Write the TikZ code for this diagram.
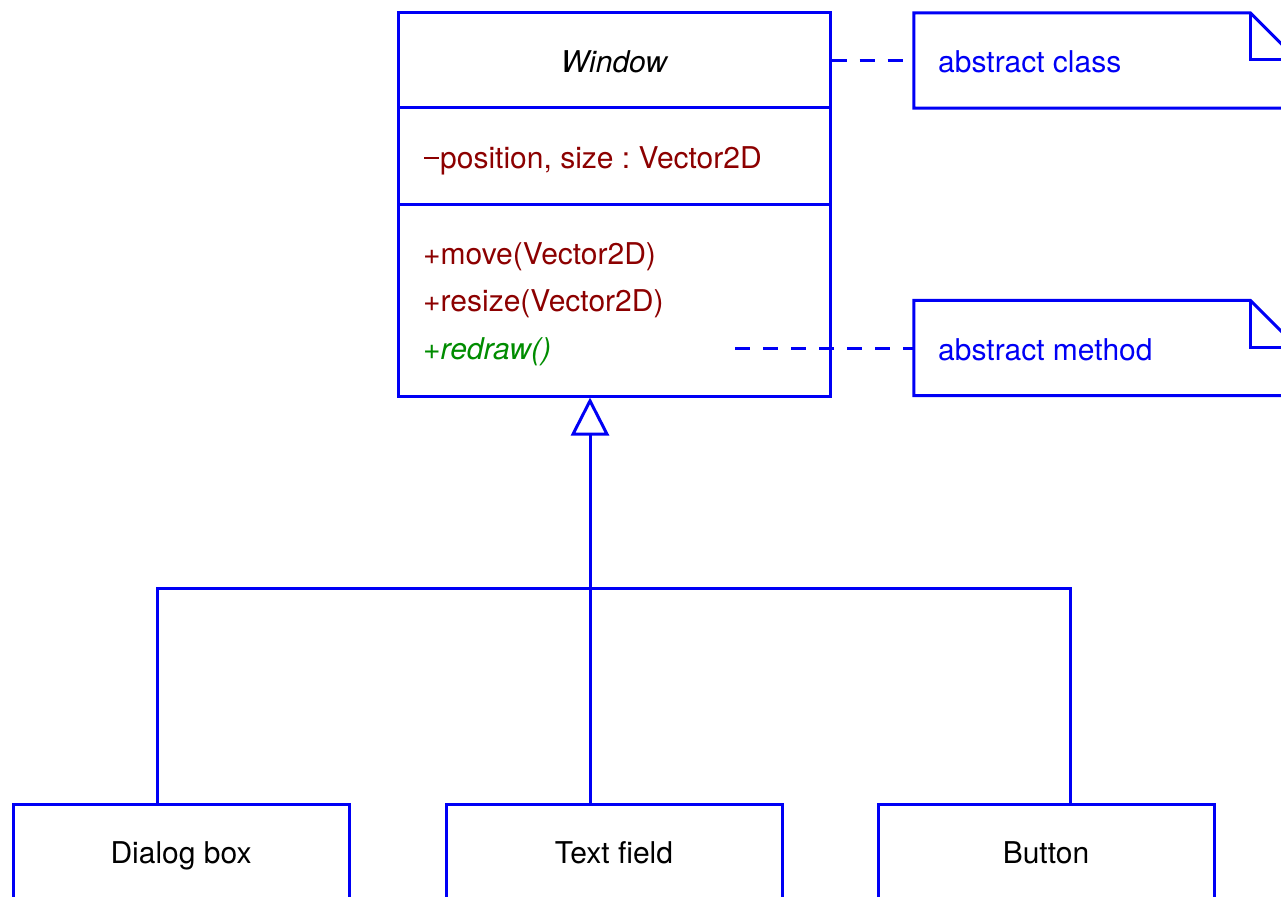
\documentclass[tikz,border=0pt]{standalone}
\usepackage{fontspec}
\setmainfont{TeX Gyre Heros}
\usetikzlibrary{arrows.meta}
\definecolor{umlblue}{RGB}{0,0,245}
\definecolor{umlred}{RGB}{140,0,0}
\definecolor{umlgreen}{RGB}{0,140,0}
\newcommand{\umlminus}{\hspace{1pt}\raisebox{9pt}{\rule{15pt}{2pt}}\hspace{1pt}}
\tikzset{
  every node/.style={font=\fontsize{30}{36}\selectfont\frenchspacing, inner sep=0pt},
  txt/.style={text height=22pt, text depth=6pt},
  classpart/.style={draw=umlblue, line width=3pt, minimum width=432pt},
  member/.style={txt, anchor=west},
  notebg/.style={minimum width=383pt, minimum height=95pt},
  noteline/.style={draw=umlblue, line width=3pt, line join=miter},
  notetext/.style={txt, anchor=west, text=umlblue},
  dashlink/.style={draw=umlblue, line width=3pt, dash pattern=on 15pt off 13pt},
  subclass/.style={txt, draw=umlblue, line width=3pt, minimum width=336pt, minimum height=102pt},
  link/.style={draw=umlblue, line width=3pt},
}
\begin{document}
\begin{tikzpicture}[x=1pt,y=-1pt]
\useasboundingbox (0,0) rectangle (1281,896);
\clip (0,0) rectangle (1281,896);
% Window class
\node[classpart, minimum height=95pt] (wbox) at (614,60.5) {};
\node[txt] (wname) at (614,65) {\itshape Window};
\node[classpart, minimum height=96pt] (wattr) at (614,156) {};
\node[classpart, minimum height=192pt] (wmeth) at (614,300) {};
\node[member, text=umlred] (attr) at (423,160) {\umlminus position, size : Vector2D};
\node[member, text=umlred] (m1) at (423,256) {+move(Vector2D)};
\node[member, text=umlred] (m2) at (423,303) {+resize(Vector2D)};
\node[member, text=umlgreen] (m3) at (423,351) {+\textit{redraw()}};
% notes
\node[notebg] (note1) at (1105.5,60.5) {};
\draw[noteline] (note1.south west) -- (note1.north west) -- ([xshift=-47pt]note1.north east)
  -- ([yshift=-47pt]note1.north east) -- (note1.south east) -- cycle;
\draw[noteline] ([xshift=-47pt]note1.north east) -- ([xshift=-47pt,yshift=-47pt]note1.north east) -- ([yshift=-47pt]note1.north east);
\node[notetext] (t1) at (938,65) {abstract class};
\node[notebg] (note2) at (1105.5,348) {};
\draw[noteline] (note2.south west) -- (note2.north west) -- ([xshift=-47pt]note2.north east)
  -- ([yshift=-47pt]note2.north east) -- (note2.south east) -- cycle;
\draw[noteline] ([xshift=-47pt]note2.north east) -- ([xshift=-47pt,yshift=-47pt]note2.north east) -- ([yshift=-47pt]note2.north east);
\node[notetext] (t2) at (938,352) {abstract method};
% dashed links
\draw[dashlink] (wbox.east) -- (note1.west);
\coordinate (dstart) at (735,348);
\draw[dashlink] (dstart) -- (note2.west);
% subclasses
\node[subclass] (dialog) at (181,855) {Dialog box};
\node[subclass] (tfield) at (614,855) {Text field};
\node[subclass] (button) at (1046,855) {Button};
% generalization
\coordinate (j) at (590,588);
\coordinate (dtop) at (157,804);
\coordinate (btop) at (1070,804);
\draw[link, -{Triangle[open, length=38pt, width=38pt]}] (j) -- (j |- wmeth.south);
\draw[link] (dtop) |- (j) -| (btop);
\draw[link] (j) -- (j |- tfield.north);
\end{tikzpicture}
\end{document}
